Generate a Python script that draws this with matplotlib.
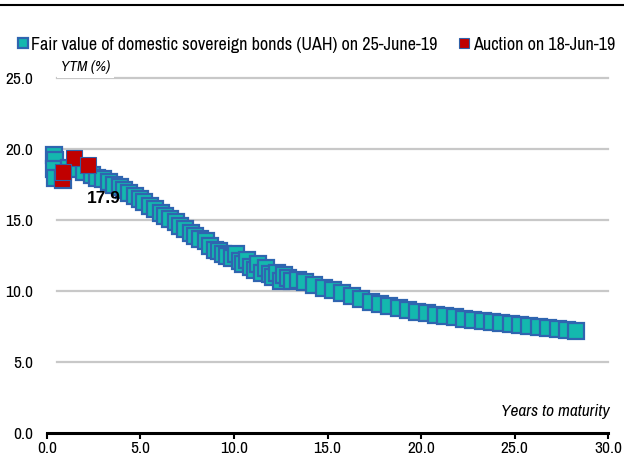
import matplotlib
matplotlib.use('Agg')

import matplotlib.pyplot as plt
from matplotlib.lines import Line2D

plt.rcParams['font.family'] = ['Archivo Narrow', 'DejaVu Sans']

# Fair value curve (years to maturity, YTM %)
fair_x = [0.4, 0.45, 0.4, 0.45, 0.85, 1.2, 1.6, 2.0, 2.4, 2.7, 3.0, 3.3, 3.6, 3.9, 4.1,
          4.4, 4.7, 5.0, 5.2, 5.5, 5.8, 6.1, 6.3, 6.6, 6.9, 7.1, 7.4, 7.7, 7.9, 8.2,
          8.5, 8.7, 9.0, 9.2, 9.4, 9.6, 9.9, 10.1, 10.3, 10.5, 10.7, 10.9, 11.1, 11.3,
          11.5, 11.7, 11.9, 12.1, 12.3, 12.5, 12.7, 12.9, 13.1, 13.4,
          13.8, 14.3, 14.8, 15.3, 15.8, 16.3, 16.8, 17.3, 17.8, 18.3, 18.8, 19.3, 19.8,
          20.3, 20.8, 21.3, 21.8, 22.3, 22.8, 23.3, 23.8, 24.3, 24.8, 25.3, 25.8, 26.3,
          26.8, 27.3, 27.8, 28.3]
fair_y = [19.6, 19.2, 18.6, 18.0, 17.8, 18.7, 18.6, 18.4, 18.2, 18.0, 17.9, 17.7, 17.5, 17.3, 17.1,
          16.9, 16.7, 16.5, 16.3, 16.0, 15.8, 15.5, 15.3, 15.1, 14.9, 14.6, 14.4, 14.1, 13.9, 13.7,
          13.5, 13.2, 12.9, 12.8, 12.6, 12.5, 12.3, 12.6, 12.1, 11.9, 12.2, 11.7, 11.5, 11.9,
          11.3, 11.6, 11.2, 11.0, 11.3, 10.7, 11.1, 10.9, 10.7, 10.8,
          10.65, 10.45, 10.25, 10.05, 9.85, 9.65, 9.45, 9.25, 9.08, 8.93, 8.8, 8.68, 8.56,
          8.45, 8.34, 8.24, 8.14, 8.05, 7.96, 7.88, 7.8, 7.73, 7.66, 7.59, 7.52, 7.46,
          7.4, 7.34, 7.28, 7.22]

# Auction results
auction_x = [0.8, 1.45, 0.85, 2.2]
auction_y = [17.9, 19.4, 18.4, 18.9]

teal = '#14b8ae'
blue = '#2f65b0'
red = '#c00000'

fig = plt.figure(figsize=(6.24, 4.57), dpi=100)
ax = fig.add_axes([0.0753, 0.0525, 0.8991, 0.7765])

# horizontal gridlines
for g in [5, 10, 15, 20, 25]:
    ax.plot([0.55, 30], [g, g], color='#c8c8c8', lw=1.6, zorder=0, clip_on=False)

ax.plot(fair_x, fair_y, 's', ms=11.5, mfc=teal, mec=blue, mew=1.6, ls='none',
        clip_on=False, zorder=3, label='Fair value of domestic sovereign bonds (UAH) on 25-June-19')
ax.plot(auction_x, auction_y, 's', ms=11.5, mfc=red, mec='#3060a8', mew=0.8, ls='none',
        clip_on=False, zorder=4, label='Auction on 18-Jun-19')

ax.annotate('17.9', (auction_x[0], auction_y[0]), xytext=(18, -14), textcoords='offset points',
            fontsize=12.5, fontweight='bold', family=['Liberation Sans', 'DejaVu Sans'],
            va='center', ha='left', zorder=5)

ax.set_xlim(0, 30)
ax.set_ylim(0, 25)
ax.set_xticks([0, 5, 10, 15, 20, 25, 30])
ax.set_xticklabels(['0.0', '5.0', '10.0', '15.0', '20.0', '25.0', '30.0'], fontsize=12.5)
ax.set_yticks([0, 5, 10, 15, 20, 25])
ax.set_yticklabels(['0.0', '5.0', '10.0', '15.0', '20.0', '25.0'], fontsize=12.5)
ax.tick_params(axis='y', length=0, pad=10)
ax.tick_params(axis='x', length=4, width=1.5, pad=1.5, direction='out')

for s in ['top', 'right', 'left']:
    ax.spines[s].set_visible(False)
ax.spines['bottom'].set_linewidth(2.2)
ax.spines['bottom'].set_zorder(6)

ax.text(0.75, 25.3, 'YTM (%)', fontsize=11, style='italic', ha='left', va='bottom',
        bbox=dict(facecolor='white', edgecolor='none', pad=3), zorder=2)
ax.text(30.1, 1.0, 'Years to maturity', fontsize=12.5, style='italic', ha='right', va='bottom')

leg = fig.legend(loc='center left', bbox_to_anchor=(0.028, 0.902), ncol=2, frameon=False,
                 fontsize=13, handlelength=0.6, handletextpad=0.15, columnspacing=1.2,
                 borderpad=0, borderaxespad=0, markerscale=0.65)

fig.add_artist(Line2D([0, 1], [0.988, 0.988], color='black', lw=1.5, transform=fig.transFigure))

fig.savefig('out.png', dpi=100)
